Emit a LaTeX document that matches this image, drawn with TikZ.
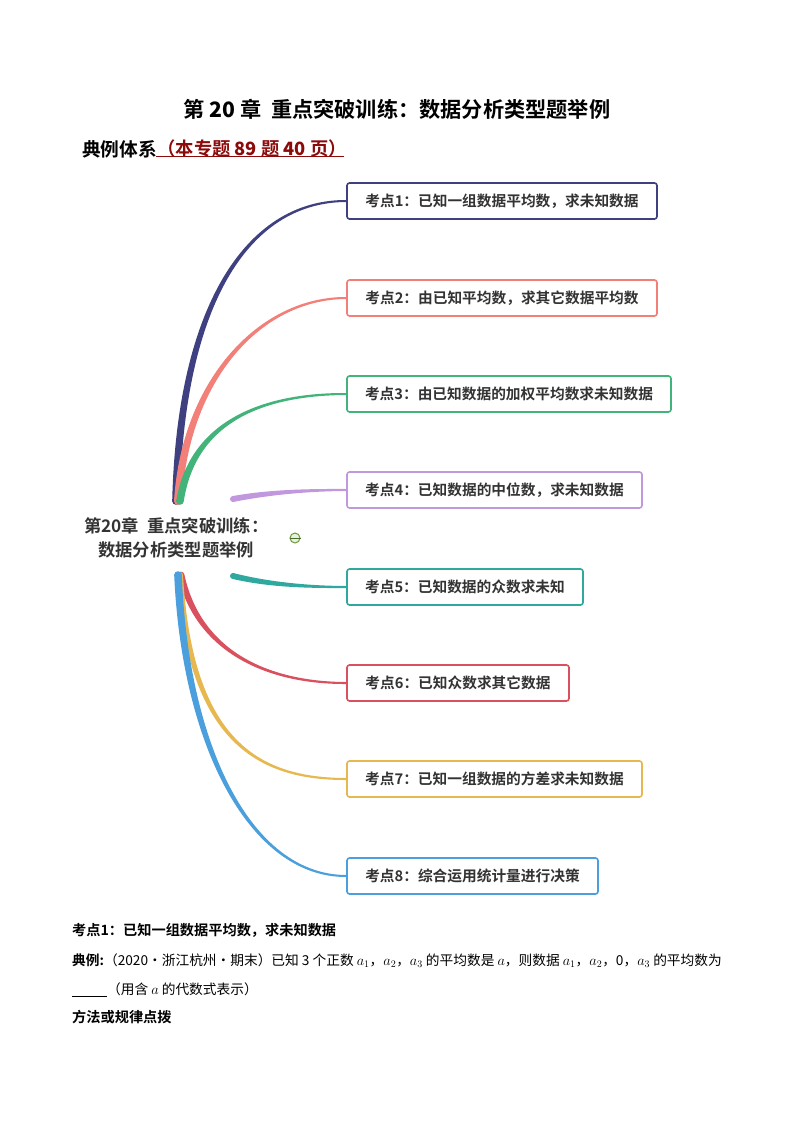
\documentclass[tikz,border=0pt]{standalone}
\usepackage{fontspec}
\setmainfont{Liberation Serif}
\newfontfamily\cjk{Noto Sans CJK SC}
\newfontfamily\cjkb{Noto Sans CJK SC Bold}
\definecolor{navybr}{HTML}{3F4080}
\definecolor{salmonbr}{HTML}{F27F78}
\definecolor{greenbr}{HTML}{42B47A}
\definecolor{purplebr}{HTML}{C197DD}
\definecolor{tealbr}{HTML}{2FA8A0}
\definecolor{redbr}{HTML}{D9505F}
\definecolor{yellowbr}{HTML}{E6B84F}
\definecolor{bluebr}{HTML}{4A9FDC}
\definecolor{inkgray}{HTML}{333333}
\definecolor{darkred}{HTML}{8B0A0A}
\definecolor{foldgreen}{HTML}{6A9A3A}
\tikzset{
  topic/.style={rectangle, rounded corners=2.5, line width=1.6, fill=white, minimum height=36,
    inner sep=0, text=inkgray, font=\cjkb\fontsize{14.7}{17}\selectfont},
  hub/.style={anchor=west, align=left, inner sep=0, text=inkgray, font=\cjkb\fontsize{17.3}{24}\selectfont},
  body/.style={anchor=west, inner sep=0, font=\cjk\fontsize{13.7}{16}\selectfont},
  bodybold/.style={anchor=west, inner sep=0, font=\cjkb\fontsize{14.2}{16}\selectfont},
}
% tapered branch: colour, start, end box, control 1, control 2, half width x, half width y, bulge at control 2
\newcommand{\branch}[8]{
  \filldraw[#1, line width=2, line join=round]
    ([shift={(-#6,-#7)}]#2) .. controls ([shift={(-#6*0.8,-#7*0.8)}]#4) and ([shift={(0,-#8)}]#5) .. (#3.west)
    .. controls ([shift={(0,#8)}]#5) and ([shift={(#6*0.8,#7*0.8)}]#4) .. ([shift={(#6,#7)}]#2) -- cycle;
  \fill[#1] (#2) circle[radius=#6pt+#7pt+1pt];
}
\begin{document}
\begin{tikzpicture}[x=1pt, y=-1pt]
\useasboundingbox (0,0) rectangle (794,1123);
\draw (397,109) node(title) [inner sep=0, font=\cjkb\fontsize{21.2}{24}\selectfont] {第 \textbf{20} 章\ \ 重点突破训练：数据分析类型题举例};
\draw (82,149) node(subhead) [anchor=west, inner sep=0, font=\cjkb\fontsize{18.7}{22}\selectfont] {典例体系};
\draw (subhead.east) node(scope) [anchor=west, inner sep=0, text=darkred, font=\cjkb\fontsize{18.3}{22}\selectfont] {（本专题 \textbf{89} 题 \textbf{40} 页）};
\coordinate (lineA) at (156,157);
\coordinate (lineB) at (344,157);
\draw[darkred, line width=1] (lineA) -- (lineB);
% boxes
\draw (502,201) node(kd1) [topic, draw=navybr, minimum width=310] {考点1：已知一组数据平均数，求未知数据};
\draw (502,298) node(kd2) [topic, draw=salmonbr, minimum width=310] {考点2：由已知平均数，求其它数据平均数};
\draw (509,394) node(kd3) [topic, draw=greenbr, minimum width=324] {考点3：由已知数据的加权平均数求未知数据};
\draw (494.5,490) node(kd4) [topic, draw=purplebr, minimum width=295] {考点4：已知数据的中位数，求未知数据};
\draw (465,587) node(kd5) [topic, draw=tealbr, minimum width=236] {考点5：已知数据的众数求未知};
\draw (458,683) node(kd6) [topic, draw=redbr, minimum width=222] {考点6：已知众数求其它数据};
\draw (494.5,779) node(kd7) [topic, draw=yellowbr, minimum width=295] {考点7：已知一组数据的方差求未知数据};
\draw (472.5,876) node(kd8) [topic, draw=bluebr, minimum width=251] {考点8：综合运用统计量进行决策};
% centre
\draw (84,538) node(root) [hub] {第20章\hspace{8pt}重点突破训练：\\\hspace{14pt}数据分析类型题举例};
\draw (295,538) node(fold) [circle, draw=foldgreen, fill=foldgreen!15, line width=1, minimum size=10, inner sep=0] {};
\draw[foldgreen!70!black, line width=1] (fold.west) -- (fold.east);
\coordinate (up1) at (176,501);
\coordinate (up2) at (178,501);
\coordinate (up3) at (180,501);
\coordinate (right4) at (233,499);
\coordinate (right5) at (233,576);
\coordinate (down6) at (181,575);
\coordinate (down7) at (180,575);
\coordinate (down8) at (178,575);
% branches
\branch{navybr}{up1}{kd1}{180,310}{245,201}{2.8}{0}{0.4}
\branch{salmonbr}{up2}{kd2}{185,380}{260,298}{3}{0}{0.4}
\branch{greenbr}{up3}{kd3}{193,420}{265,394}{2.8}{0}{0.4}
\branch{purplebr}{right4}{kd4}{270,492}{310,490}{0}{2}{0.2}
\branch{tealbr}{right5}{kd5}{270,585}{310,587}{0}{2}{0.2}
\branch{redbr}{down6}{kd6}{198,650}{265,683}{2.4}{0}{-0.4}
\branch{yellowbr}{down7}{kd7}{190,745}{262,779}{2}{0}{-0.3}
\branch{bluebr}{down8}{kd8}{185,745}{250,876}{2.8}{0}{-0.3}
% text below
\draw (72,930) node(head1) [bodybold] {考点1：已知一组数据平均数，求未知数据};
\draw (72,961) node(eg) [body] {\cjkb 典例:\cjk（2020·浙江杭州·期末）已知 3 个正数 $a_1$，$a_2$，$a_3$ 的平均数是 $a$，则数据 $a_1$，$a_2$，0，$a_3$ 的平均数为};
\draw (72,990) node(eg2) [body] {\underline{\hspace{35pt}}（用含 $a$ 的代数式表示）};
\draw (72,1017) node(head2) [bodybold] {方法或规律点拨};
\end{tikzpicture}
\end{document}
